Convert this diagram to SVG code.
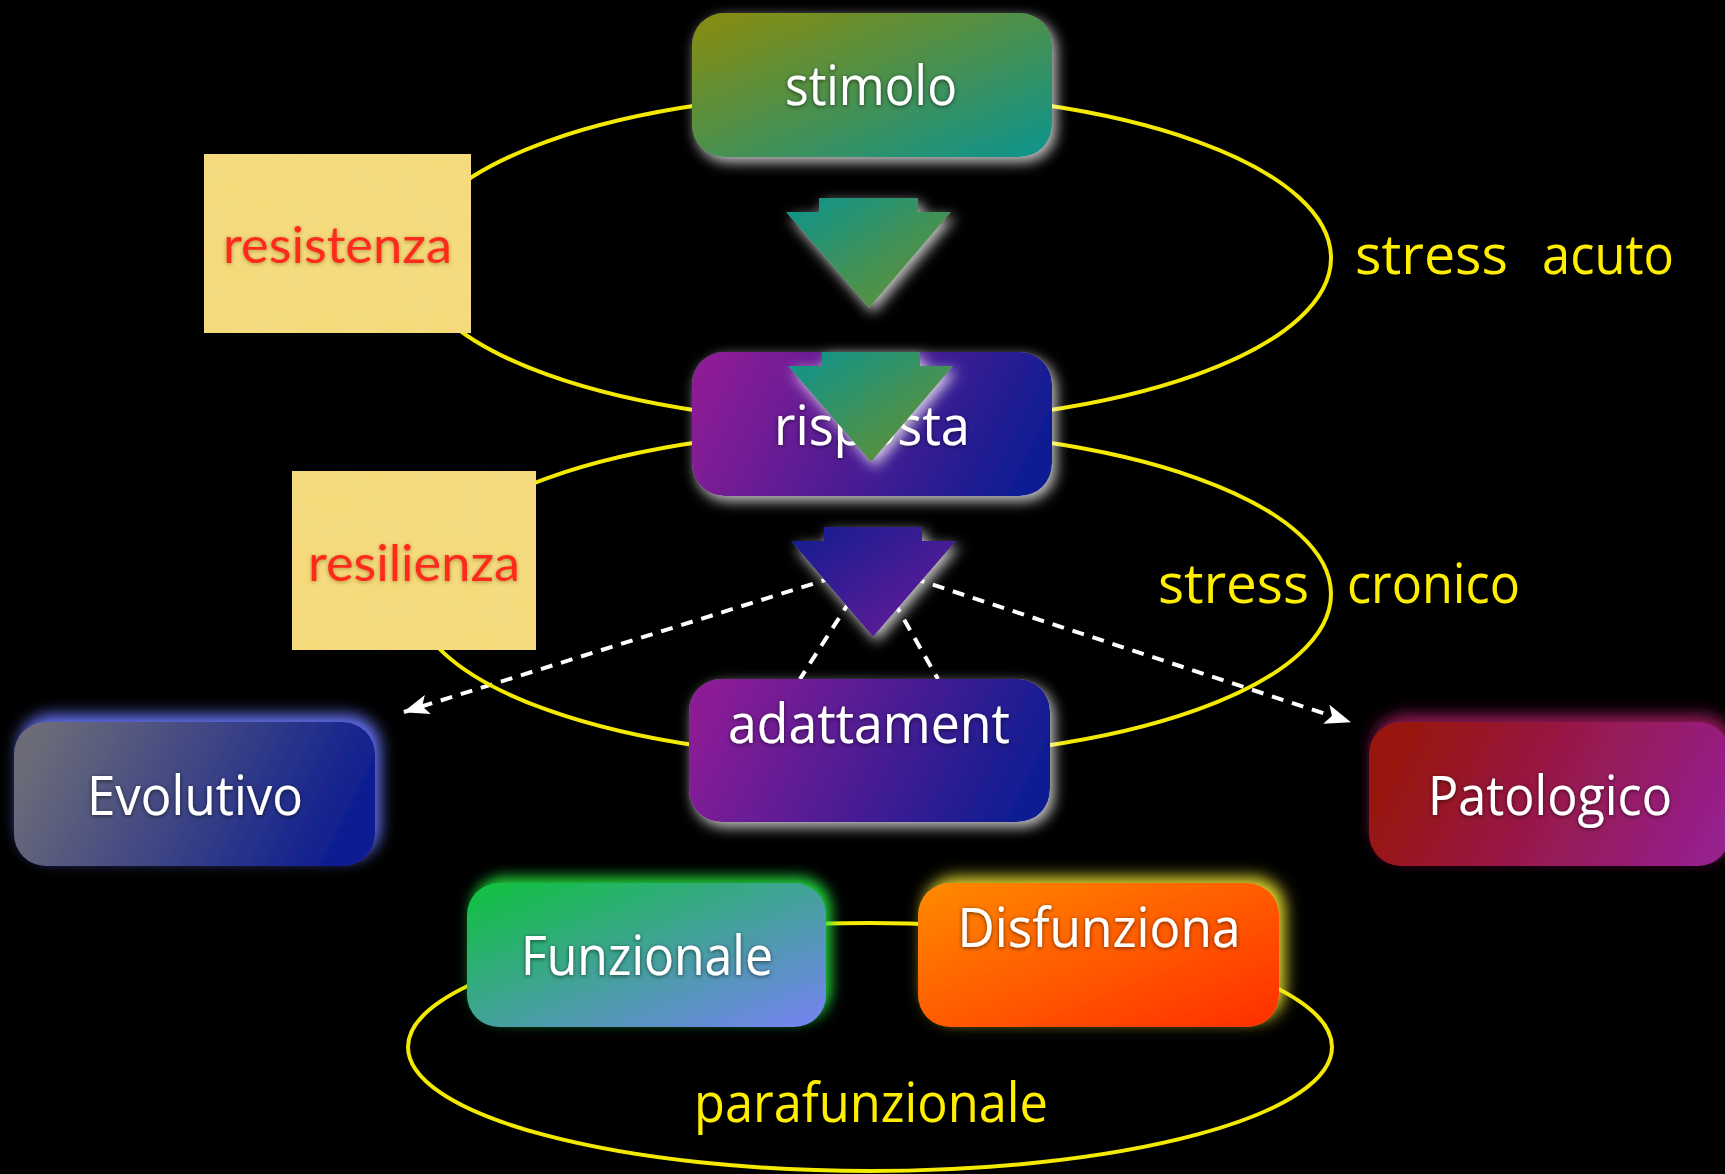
<svg xmlns="http://www.w3.org/2000/svg" width="1725" height="1174" viewBox="0 0 1725 1174">
<defs>
<style>
.lbl{font-family:"Open Sans","Noto Sans",sans-serif;font-size:54px;fill:#ffffff;text-anchor:middle;}
.ylbl{font-family:"Open Sans","Noto Sans",sans-serif;font-size:54px;fill:#ffee00;}
.rlbl{font-family:Lato,"Liberation Sans",sans-serif;font-size:50px;fill:#ff2a1e;}
.ring{fill:none;stroke:#f4ea00;stroke-width:4;}
.dash{fill:none;stroke:#ffffff;stroke-width:4;stroke-dasharray:12 9;}
.paper{fill:#f6da7a;}
</style>
<linearGradient id="gStim" x1="0" y1="0" x2="1" y2="1"><stop offset="0" stop-color="#8a8c0c"/><stop offset="1" stop-color="#0c948e"/></linearGradient>
<linearGradient id="gArr1" x1="0" y1="0" x2="1" y2="1"><stop offset="0" stop-color="#0c948e"/><stop offset="1" stop-color="#6e9028"/></linearGradient>
<linearGradient id="gPurp" x1="0" y1="0.4" x2="1" y2="0.6"><stop offset="0" stop-color="#8c1f96"/><stop offset="1" stop-color="#0c1a92"/></linearGradient>
<linearGradient id="gArr3" x1="0" y1="0" x2="1" y2="1"><stop offset="0" stop-color="#121a92"/><stop offset="1" stop-color="#6e1f98"/></linearGradient>
<linearGradient id="gEvo" x1="0" y1="0.4" x2="1" y2="0.6"><stop offset="0" stop-color="#6c6c78"/><stop offset="1" stop-color="#0a1a92"/></linearGradient>
<linearGradient id="gPat" x1="0" y1="0.4" x2="1" y2="0.6"><stop offset="0" stop-color="#981208"/><stop offset="1" stop-color="#96208e"/></linearGradient>
<linearGradient id="gFun" x1="0" y1="0" x2="1" y2="1"><stop offset="0" stop-color="#0ec23c"/><stop offset="1" stop-color="#7682f4"/></linearGradient>
<linearGradient id="gDis" x1="0" y1="0" x2="1" y2="1"><stop offset="0" stop-color="#ff8a00"/><stop offset="1" stop-color="#ff2e00"/></linearGradient>
<filter id="glowW" x="-20%" y="-30%" width="140%" height="160%"><feDropShadow dx="4" dy="5" stdDeviation="7" flood-color="#ffffff" flood-opacity="0.8"/></filter>
<filter id="glowB" x="-20%" y="-30%" width="140%" height="160%"><feDropShadow dx="5" dy="-7" stdDeviation="8" flood-color="#6a78ff" flood-opacity="1"/></filter>
<filter id="glowR" x="-20%" y="-30%" width="140%" height="160%"><feDropShadow dx="4" dy="-7" stdDeviation="8" flood-color="#b0206a" flood-opacity="0.85"/></filter>
<filter id="glowG" x="-20%" y="-30%" width="140%" height="160%"><feDropShadow dx="5" dy="-6" stdDeviation="7" flood-color="#22e040" flood-opacity="0.95"/></filter>
<filter id="glowY" x="-20%" y="-30%" width="140%" height="160%"><feDropShadow dx="6" dy="-6" stdDeviation="8" flood-color="#f0e830" flood-opacity="0.95"/></filter>
<filter id="tsh" x="-10%" y="-30%" width="120%" height="160%"><feDropShadow dx="0" dy="1" stdDeviation="2" flood-color="#000000" flood-opacity="0.6"/></filter>
<filter id="rsh" x="-10%" y="-30%" width="120%" height="160%"><feDropShadow dx="0" dy="1" stdDeviation="2" flood-color="#7a5a10" flood-opacity="0.6"/></filter>
<filter id="tex" x="0" y="0" width="100%" height="100%">
<feTurbulence type="fractalNoise" baseFrequency="0.035" numOctaves="3" seed="4" result="n"/>
<feColorMatrix in="n" type="matrix" values="0 0 0 0 0.86  0 0 0 0 0.74  0 0 0 0 0.30  0 0 0 0.5 -0.12" result="c"/>
<feComposite in="c" in2="SourceGraphic" operator="in" result="ci"/>
<feMerge><feMergeNode in="SourceGraphic"/><feMergeNode in="ci"/></feMerge>
</filter>
<marker id="ah" viewBox="0 0 26 20" refX="25" refY="10" markerWidth="26" markerHeight="20" markerUnits="userSpaceOnUse" orient="auto">
<path d="M0,0 L26,10 L0,20 L6,10 Z" fill="#ffffff"/>
</marker>
</defs>
<rect width="1725" height="1174" fill="#000000"/>

<g id="connectors">
<line class="dash" x1="873" y1="565" x2="404" y2="712" marker-end="url(#ah)"/>
<line class="dash" x1="873" y1="565" x2="1350" y2="722" marker-end="url(#ah)"/>
<line class="dash" x1="873" y1="565" x2="800" y2="679"/>
<line class="dash" x1="873" y1="565" x2="938" y2="679"/>
<ellipse class="ring" cx="872" cy="258" rx="459" ry="165"/>
<ellipse class="ring" cx="872" cy="594" rx="459" ry="164"/>
<ellipse class="ring" cx="870" cy="1047" rx="462" ry="124"/>
</g>

<g id="label-stress-acuto"><text class="ylbl" y="274"><tspan x="1355" textLength="153" lengthAdjust="spacingAndGlyphs">stress</tspan> <tspan x="1542" textLength="132" lengthAdjust="spacingAndGlyphs">acuto</tspan></text></g>
<g id="label-stress-cronico"><text class="ylbl" y="603"><tspan x="1158" textLength="151" lengthAdjust="spacingAndGlyphs">stress</tspan> <tspan x="1347" textLength="173" lengthAdjust="spacingAndGlyphs">cronico</tspan></text></g>
<g id="label-parafunzionale"><text class="ylbl" x="694" y="1122" textLength="354" lengthAdjust="spacingAndGlyphs">parafunzionale</text></g>

<g id="resistenza">
<rect class="paper" x="204" y="154" width="267" height="179" filter="url(#tex)"/>
<text class="rlbl" x="223" y="263" textLength="229" lengthAdjust="spacingAndGlyphs" filter="url(#rsh)">resistenza</text>
</g>
<g id="resilienza">
<rect class="paper" x="292" y="471" width="244" height="179" filter="url(#tex)"/>
<text class="rlbl" x="308" y="581" textLength="212" lengthAdjust="spacingAndGlyphs" filter="url(#rsh)">resilienza</text>
</g>

<g id="stimolo">
<rect x="692" y="13" width="360" height="144" rx="32" fill="url(#gStim)" filter="url(#glowW)"/>
<text class="lbl" x="871" y="105" textLength="172" lengthAdjust="spacingAndGlyphs" filter="url(#tsh)">stimolo</text>
</g>
<g id="arrow-1">
<polygon points="819,198 918,198 918,212 951,212 869,308 786,212 819,212" fill="url(#gArr1)" filter="url(#glowW)"/>
</g>
<g id="risposta">
<rect x="692" y="352" width="360" height="144" rx="32" fill="url(#gPurp)" filter="url(#glowW)"/>
<text class="lbl" x="872" y="445" textLength="196" lengthAdjust="spacingAndGlyphs" filter="url(#tsh)">risposta</text>
</g>
<g id="arrow-2">
<polygon points="822,352 920,352 920,366 953,366 871,462 788,366 822,366" fill="url(#gArr1)" filter="url(#glowW)"/>
</g>
<g id="adattamento">
<rect x="689" y="679" width="361" height="143" rx="32" fill="url(#gPurp)" filter="url(#glowW)"/>
<text class="lbl" x="869" y="743" textLength="282" lengthAdjust="spacingAndGlyphs" filter="url(#tsh)">adattament</text>
</g>
<g id="arrow-3">
<polygon points="824,527 922,527 922,541 956,541 873,637 791,541 824,541" fill="url(#gArr3)" filter="url(#glowW)"/>
</g>
<g id="evolutivo">
<rect x="14" y="722" width="361" height="144" rx="32" fill="url(#gEvo)" filter="url(#glowB)"/>
<text class="lbl" x="195" y="815" textLength="216" lengthAdjust="spacingAndGlyphs" filter="url(#tsh)">Evolutivo</text>
</g>
<g id="patologico">
<rect x="1369" y="722" width="361" height="144" rx="32" fill="url(#gPat)" filter="url(#glowR)"/>
<text class="lbl" x="1550" y="815" textLength="244" lengthAdjust="spacingAndGlyphs" filter="url(#tsh)">Patologico</text>
</g>
<g id="funzionale">
<rect x="467" y="883" width="359" height="144" rx="32" fill="url(#gFun)" filter="url(#glowG)"/>
<text class="lbl" x="647" y="975" textLength="252" lengthAdjust="spacingAndGlyphs" filter="url(#tsh)">Funzionale</text>
</g>
<g id="disfunziona">
<rect x="918" y="883" width="361" height="144" rx="32" fill="url(#gDis)" filter="url(#glowY)"/>
<text class="lbl" x="1099" y="947" textLength="283" lengthAdjust="spacingAndGlyphs" filter="url(#tsh)">Disfunziona</text>
</g>
</svg>
